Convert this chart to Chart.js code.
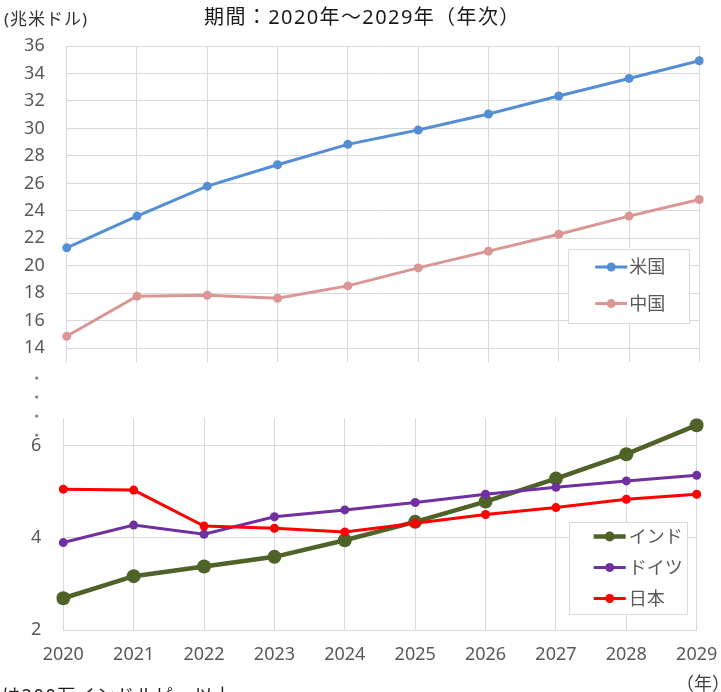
<!DOCTYPE html>
<html>
<head>
<meta charset="utf-8">
<script src="https://cdn.jsdelivr.net/npm/chart.js@4.4.0/dist/chart.umd.min.js"></script>
<style>
  body { margin:0; width:721px; height:692px; overflow:hidden; background:#fff; position:relative;
         font-family:'Noto Sans','Noto Sans CJK JP',sans-serif; }
  canvas { position:absolute; left:0; }
  #topChart { top:0; }
  #bottomChart { top:400px; }
  .txt { position:absolute; white-space:nowrap; line-height:1; }
</style>
</head>
<body>
<canvas id="topChart" width="721" height="440"></canvas>
<canvas id="bottomChart" width="721" height="292"></canvas>
<div class="txt" style="left:204px;top:7px;font-size:20px;letter-spacing:1.4px;color:#1a1a1a">期間：2020年～2029年（年次）</div>
<div class="txt" style="left:4px;top:10px;font-size:17px;letter-spacing:1px;color:#333">(兆米ドル)</div>
<div class="txt" style="left:676px;top:674px;font-size:18px;color:#404040">（年）</div>
<div class="txt" style="left:2px;top:686px;font-size:18px;letter-spacing:1.6px;color:#1a1a1a">は200万インドルピー以上</div>
<script>
var years = ['2020','2021','2022','2023','2024','2025','2026','2027','2028','2029'];

// 上段 (兆米ドル)
var usVals    = [21.31, 23.62, 25.80, 27.36, 28.84, 29.88, 31.05, 32.36, 33.64, 34.93];
var chinaVals = [14.87, 17.79, 17.86, 17.64, 18.54, 19.85, 21.07, 22.30, 23.62, 24.83];
var topTicks  = [14, 16, 18, 20, 22, 24, 26, 28, 30, 32, 34, 36];

// 下段
var indiaVals   = [2.69, 3.17, 3.38, 3.59, 3.95, 4.35, 4.79, 5.29, 5.82, 6.45];
var germanyVals = [3.90, 4.28, 4.08, 4.46, 4.61, 4.77, 4.95, 5.10, 5.24, 5.36];
var japanVals   = [5.06, 5.04, 4.26, 4.21, 4.13, 4.32, 4.51, 4.66, 4.84, 4.95];
var bottomTicks = [2, 4, 6];

var FONT = "'Noto Sans','Noto Sans CJK JP',sans-serif";
var GRID = '#D9D9D9';
var LABEL = '#595959';

function line(label, data, color, width, radius, order) {
  return {
    label: label, data: data, borderColor: color, backgroundColor: color,
    borderWidth: width, pointRadius: radius, pointBorderWidth: 0,
    pointBackgroundColor: color, tension: 0, order: order
  };
}

// 凡例 (枠付き、プロット内右下)
var boxLegend = {
  id: 'boxLegend',
  afterDatasetsDraw: function(chart, args, o) {
    var ctx = chart.ctx, a = chart.chartArea;
    var x = a.right - o.right - o.width;
    var y = a.bottom - o.bottom - o.height;
    ctx.save();
    ctx.fillStyle = '#fff';
    ctx.fillRect(x, y, o.width, o.height);
    ctx.strokeStyle = GRID;
    ctx.lineWidth = 1;
    ctx.strokeRect(Math.round(x) + 0.5, Math.round(y) + 0.5, o.width, o.height);
    o.items.forEach(function(idx, k) {
      var ds = chart.data.datasets[idx];
      var yy = y + o.first + k * o.step;
      var x0 = x + o.lineX, x1 = x0 + 32;
      ctx.strokeStyle = ds.borderColor;
      ctx.lineWidth = ds.borderWidth;
      ctx.beginPath(); ctx.moveTo(x0, yy); ctx.lineTo(x1, yy); ctx.stroke();
      ctx.fillStyle = ds.borderColor;
      ctx.beginPath(); ctx.arc((x0 + x1) / 2, yy, Math.min(ds.pointRadius, 5), 0, Math.PI * 2); ctx.fill();
      ctx.fillStyle = LABEL;
      ctx.font = '18px ' + FONT;
      ctx.textBaseline = 'middle';
      ctx.fillText(ds.label, x + o.textX, yy + 1);
    });
    ctx.restore();
  }
};

// 軸の省略記号
var breakDots = {
  id: 'breakDots',
  afterDraw: function(chart) {
    var ctx = chart.ctx, a = chart.chartArea;
    ctx.save();
    ctx.fillStyle = '#7F7F7F';
    for (var i = 0; i < 4; i++) {
      ctx.beginPath();
      ctx.arc(a.left - 30, a.bottom + 16 + i * 19, 1.6, 0, Math.PI * 2);
      ctx.fill();
    }
    ctx.restore();
  }
};

function noPad(s) { s.paddingTop = 0; s.paddingBottom = 0; s.paddingLeft = 0; s.paddingRight = 0; }

new Chart(document.getElementById('topChart'), {
  type: 'line',
  data: {
    labels: years,
    datasets: [
      line('米国', usVals, '#558ED5', 3, 4.5, 1),
      line('中国', chinaVals, '#D99694', 3, 4.5, 2)
    ]
  },
  plugins: [boxLegend, breakDots],
  options: {
    responsive: false, animation: false,
    layout: { padding: { left: 0, right: 21.7, top: 46, bottom: 78 } },
    plugins: {
      legend: { display: false }, tooltip: { enabled: false }, title: { display: false },
      boxLegend: { items: [0, 1], width: 121, height: 74, right: 10.6, bottom: 39.5,
                   first: 18.5, step: 36.6, lineX: 27.5, textX: 61.5 }
    },
    scales: {
      x: {
        grid: { color: GRID, drawTicks: false }, border: { display: false },
        ticks: { display: false },
        afterFit: function(s) { s.height = 0; noPad(s); }
      },
      y: {
        min: 13, max: 36,
        afterBuildTicks: function(s) { s.ticks = topTicks.map(function(v) { return { value: v }; }); },
        grid: { color: GRID, drawTicks: false }, border: { color: GRID },
        ticks: { padding: 22, color: LABEL, font: { size: 18, family: FONT } },
        afterFit: function(s) { s.width = 66.7; noPad(s); }
      }
    }
  }
});

new Chart(document.getElementById('bottomChart'), {
  type: 'line',
  data: {
    labels: years,
    datasets: [
      line('インド', indiaVals, '#4F6228', 4.5, 7, 3),
      line('ドイツ', germanyVals, '#7030A0', 3, 4.5, 2),
      line('日本', japanVals, '#FF0000', 3, 4.5, 1)
    ]
  },
  plugins: [boxLegend],
  options: {
    responsive: false, animation: false,
    layout: { padding: { left: 0, right: 24.3, top: 18.3, bottom: 0 } },
    plugins: {
      legend: { display: false }, tooltip: { enabled: false },
      boxLegend: { items: [0, 1, 2], width: 118, height: 92, right: 10, bottom: 16,
                   first: 14.5, step: 31, lineX: 25, textX: 60 }
    },
    scales: {
      x: {
        grid: { color: GRID, drawTicks: false }, border: { color: GRID },
        ticks: { padding: 14, color: LABEL, font: { size: 18, family: FONT }, maxRotation: 0 },
        afterFit: function(s) { s.height = 62; noPad(s); }
      },
      y: {
        min: 2, max: 6.6,
        afterBuildTicks: function(s) { s.ticks = bottomTicks.map(function(v) { return { value: v }; }); },
        grid: { color: GRID, drawTicks: false }, border: { color: GRID },
        ticks: { padding: 22, color: LABEL, font: { size: 18, family: FONT } },
        afterFit: function(s) { s.width = 63.3; noPad(s); }
      }
    }
  }
});
</script>
</body>
</html>
